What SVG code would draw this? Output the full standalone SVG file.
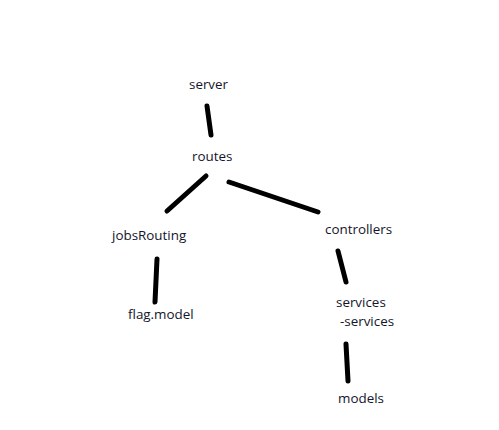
<svg xmlns="http://www.w3.org/2000/svg" width="499" height="430" viewBox="0 0 499 430">
<style>
text{font-family:"Open Sans","Noto Sans",sans-serif;font-size:13.4px;fill:#14142b}
.c line{stroke:#000;stroke-width:5;stroke-linecap:round}
</style>
<rect width="499" height="430" fill="#fff"/>
<g class="c" id="connectors">
<line x1="207" y1="106" x2="211" y2="135"/>
<line x1="206" y1="176" x2="167" y2="211"/>
<line x1="229" y1="182" x2="318" y2="212"/>
<line x1="157" y1="259" x2="155" y2="302"/>
<line x1="338" y1="251" x2="346" y2="282"/>
<line x1="346" y1="344" x2="348" y2="381"/>
</g>
<g id="server"><text x="189" y="89">server</text></g>
<g id="routes"><text x="192" y="161">routes</text></g>
<g id="jobsRouting"><text x="112" y="240">jobsRouting</text></g>
<g id="controllers"><text x="325" y="234">controllers</text></g>
<g id="flagModel"><text x="128" y="319">flag.model</text></g>
<g id="services"><text x="336" y="307">services</text><text x="340" y="326">-services</text></g>
<g id="models"><text x="338" y="403">models</text></g>
</svg>
